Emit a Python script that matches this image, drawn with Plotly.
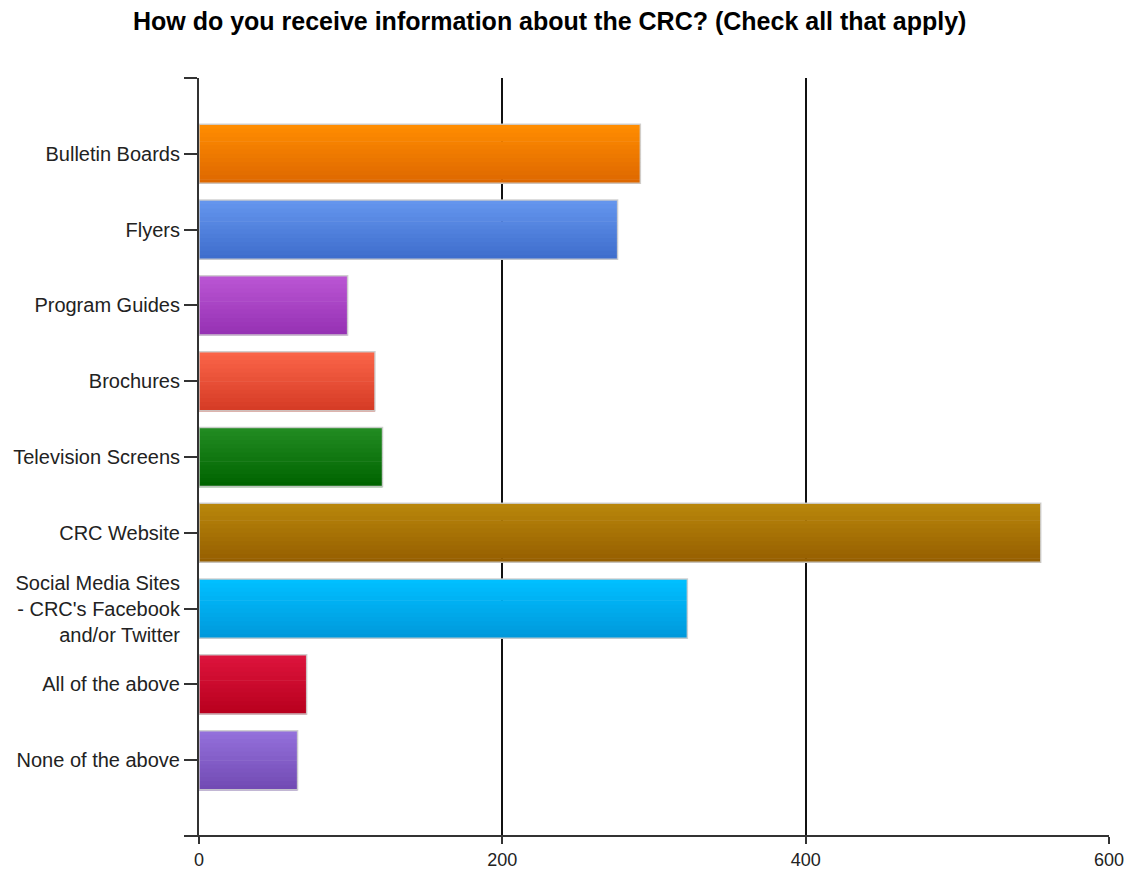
import plotly.graph_objects as go

categories = ["Bulletin Boards", "Flyers", "Program Guides", "Brochures",
              "Television Screens", "CRC Website",
              "Social Media Sites<br>- CRC's Facebook<br>and/or Twitter",
              "All of the above", "None of the above"]
values = [291, 276, 98, 116, 121, 555, 322, 71, 65]
top_colors = [(255, 140, 0), (100, 149, 237), (186, 85, 211), (250, 100, 72),
              (34, 139, 34), (184, 134, 11), (0, 191, 255), (220, 20, 60),
              (147, 112, 219)]
bottom_colors = [(222, 104, 0), (63, 110, 205), (150, 50, 180), (214, 60, 38),
                 (0, 100, 0), (150, 95, 0), (0, 153, 220), (185, 0, 30),
                 (115, 75, 180)]
x_ticks = [0, 200, 400, 600]

positions = list(range(1, len(categories) + 1))
bar_h = 0.78
n_strips = 14
strip = bar_h / n_strips

fig = go.Figure()
for j in range(n_strips):
    t = j / (n_strips - 1)
    cols = []
    for a, b in zip(top_colors, bottom_colors):
        c = tuple(round(a[k] + (b[k] - a[k]) * t) for k in range(3))
        cols.append("rgb(%d,%d,%d)" % c)
    fig.add_trace(go.Bar(
        y=positions, x=values, orientation="h",
        base=0, width=strip * 1.15, offset=-bar_h / 2 + j * strip,
        marker=dict(color=cols, line=dict(width=0)),
        hoverinfo="skip", showlegend=False,
    ))
# outline
fig.add_trace(go.Bar(
    y=positions, x=values, orientation="h", width=bar_h,
    marker=dict(color="rgba(0,0,0,0)", line=dict(color="rgba(205,205,205,0.9)", width=1.5)),
    showlegend=False, hovertemplate="%{x}<extra></extra>",
))

fig.update_layout(
    barmode="overlay",
    width=1131, height=869,
    margin=dict(l=199, r=22, t=78, b=33, autoexpand=False),
    paper_bgcolor="white", plot_bgcolor="white",
    font=dict(family="Liberation Sans, Arial, sans-serif", size=20, color="#222"),
    title=dict(text="<b>How do you receive information about the CRC? (Check all that apply)</b>",
               x=0.486, xanchor="center", y=0.975, yanchor="middle",
               font=dict(size=25, color="#000")),
    xaxis=dict(range=[0, 600], tickvals=x_ticks, ticktext=[str(v) for v in x_ticks],
               automargin=False, tickfont=dict(size=18),
               showgrid=True, gridcolor="#111", gridwidth=1.5,
               showline=False, zeroline=False,
               ticks="outside", ticklen=7, tickwidth=1.5, tickcolor="#333"),
    yaxis=dict(range=[len(categories) + 1, 0],
               tickvals=[0] + positions + [len(categories) + 1],
               ticktext=[""] + categories + [""],
               automargin=False,
               showgrid=False, zeroline=False,
               showline=True, linecolor="#333", linewidth=2,
               ticks="outside", ticklen=13, tickwidth=1.5, tickcolor="#333"),
)
# x-axis baseline extending left like the reference
fig.add_shape(type="line", xref="paper", yref="paper", x0=-0.014, x1=1, y0=0, y1=0,
              line=dict(color="#333", width=2), layer="above")

fig.write_html("out.html")
